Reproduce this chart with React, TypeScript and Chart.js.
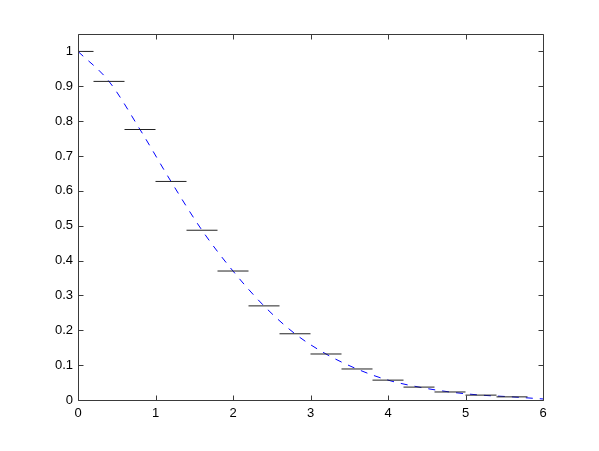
import React, { useEffect, useRef } from "react";
import { Chart, registerables } from "chart.js";

Chart.register(...registerables);

// Centers of the horizontal step segments (x) and their heights
const stepCenters = [0, 0.4, 0.8, 1.2, 1.6, 2.0, 2.4, 2.8, 3.2, 3.6, 4.0, 4.4, 4.8, 5.2, 5.6];
const stepValues = [1, 0.914, 0.776, 0.627, 0.487, 0.37, 0.27, 0.19, 0.132, 0.089, 0.057, 0.037, 0.023, 0.014, 0.009];
const stepHalfWidth = 0.2;

// Dashed curve samples
const curveX = [0, 0.4, 0.8, 1.2, 1.6, 2.0, 2.4, 2.8, 3.2, 3.6, 4.0, 4.4, 4.8, 5.2, 5.6, 6.0];
const curveY = [1, 0.914, 0.776, 0.627, 0.487, 0.37, 0.27, 0.19, 0.132, 0.089, 0.057, 0.037, 0.023, 0.014, 0.009, 0.003];

const xTicks = [0, 1, 2, 3, 4, 5, 6];
const yTicks = [0, 0.1, 0.2, 0.3, 0.4, 0.5, 0.6, 0.7, 0.8, 0.9, 1];

const FONT = { family: "'Liberation Sans', Arial, Helvetica, sans-serif", size: 13 };

const boxPlugin = {
  id: "matlabBox",
  afterDatasetsDraw(chart: any) {
    const { ctx, chartArea, scales } = chart;
    const { left, right, top, bottom } = chartArea;
    ctx.save();
    ctx.strokeStyle = "#3a3a3a";
    ctx.lineWidth = 1;
    const L = Math.round(left) + 0.5;
    const R = Math.round(right) + 0.5;
    const T = Math.round(top) + 0.5;
    const B = Math.round(bottom) + 0.5;
    ctx.beginPath();
    ctx.rect(L, T, R - L, B - T);
    const tl = 5;
    xTicks.forEach((v) => {
      const px = Math.round(scales.x.getPixelForValue(v)) + 0.5;
      ctx.moveTo(px, B);
      ctx.lineTo(px, B - tl);
      ctx.moveTo(px, T);
      ctx.lineTo(px, T + tl);
    });
    yTicks.forEach((v) => {
      const py = Math.round(scales.y.getPixelForValue(v)) + 0.5;
      ctx.moveTo(L, py);
      ctx.lineTo(L + tl, py);
      ctx.moveTo(R, py);
      ctx.lineTo(R - tl, py);
    });
    ctx.stroke();
    ctx.restore();
  },
};

export default function App() {
  const ref = useRef<HTMLCanvasElement | null>(null);

  useEffect(() => {
    document.body.style.margin = "0";
    const canvas = ref.current;
    if (!canvas) return;

    const stepData: any[] = [];
    stepCenters.forEach((c, i) => {
      stepData.push({ x: c - stepHalfWidth, y: stepValues[i] });
      stepData.push({ x: c + stepHalfWidth, y: stepValues[i] });
      stepData.push({ x: c + stepHalfWidth, y: null });
    });
    const curveData = curveX.map((x, i) => ({ x, y: curveY[i] }));

    const chart = new Chart(canvas, {
      type: "line",
      data: {
        datasets: [
          {
            data: stepData,
            borderColor: "#222222",
            borderWidth: 1,
            pointRadius: 0,
            spanGaps: false,
            tension: 0,
          },
          {
            data: curveData,
            borderColor: "#0000ff",
            borderWidth: 1,
            borderDash: [7, 7],
            pointRadius: 0,
            cubicInterpolationMode: "monotone",
          },
        ],
      },
      plugins: [boxPlugin],
      options: {
        animation: false,
        responsive: false,
        maintainAspectRatio: false,
        devicePixelRatio: 1,
        layout: { padding: { left: 0, top: 34, right: 56, bottom: 0 } },
        plugins: { legend: { display: false }, tooltip: { enabled: false } },
        scales: {
          x: {
            type: "linear",
            min: 0,
            max: 6,
            grid: { display: false, drawTicks: false, tickLength: 0 },
            border: { display: false },
            afterFit: (s: any) => {
              s.height = 51;
            },
            afterBuildTicks: (s: any) => {
              s.ticks = xTicks.map((v) => ({ value: v }));
            },
            ticks: {
              padding: 6,
              color: "#000",
              font: FONT,
              maxRotation: 0,
              autoSkip: false,
              callback: (v: any) => String(v),
            },
          },
          y: {
            type: "linear",
            min: 0,
            max: 1.05,
            grid: { display: false, drawTicks: false, tickLength: 0 },
            border: { display: false },
            afterFit: (s: any) => {
              s.width = 78;
            },
            afterBuildTicks: (s: any) => {
              s.ticks = yTicks.map((v) => ({ value: v }));
            },
            ticks: {
              padding: 5,
              color: "#000",
              font: FONT,
              autoSkip: false,
              callback: (v: any) => String(parseFloat(Number(v).toFixed(2))),
            },
          },
        },
      },
    });
    return () => chart.destroy();
  }, []);

  return (
    <div style={{ width: 599, height: 451, background: "#fff" }}>
      <canvas ref={ref} width={599} height={451} style={{ display: "block" }} />
    </div>
  );
}
